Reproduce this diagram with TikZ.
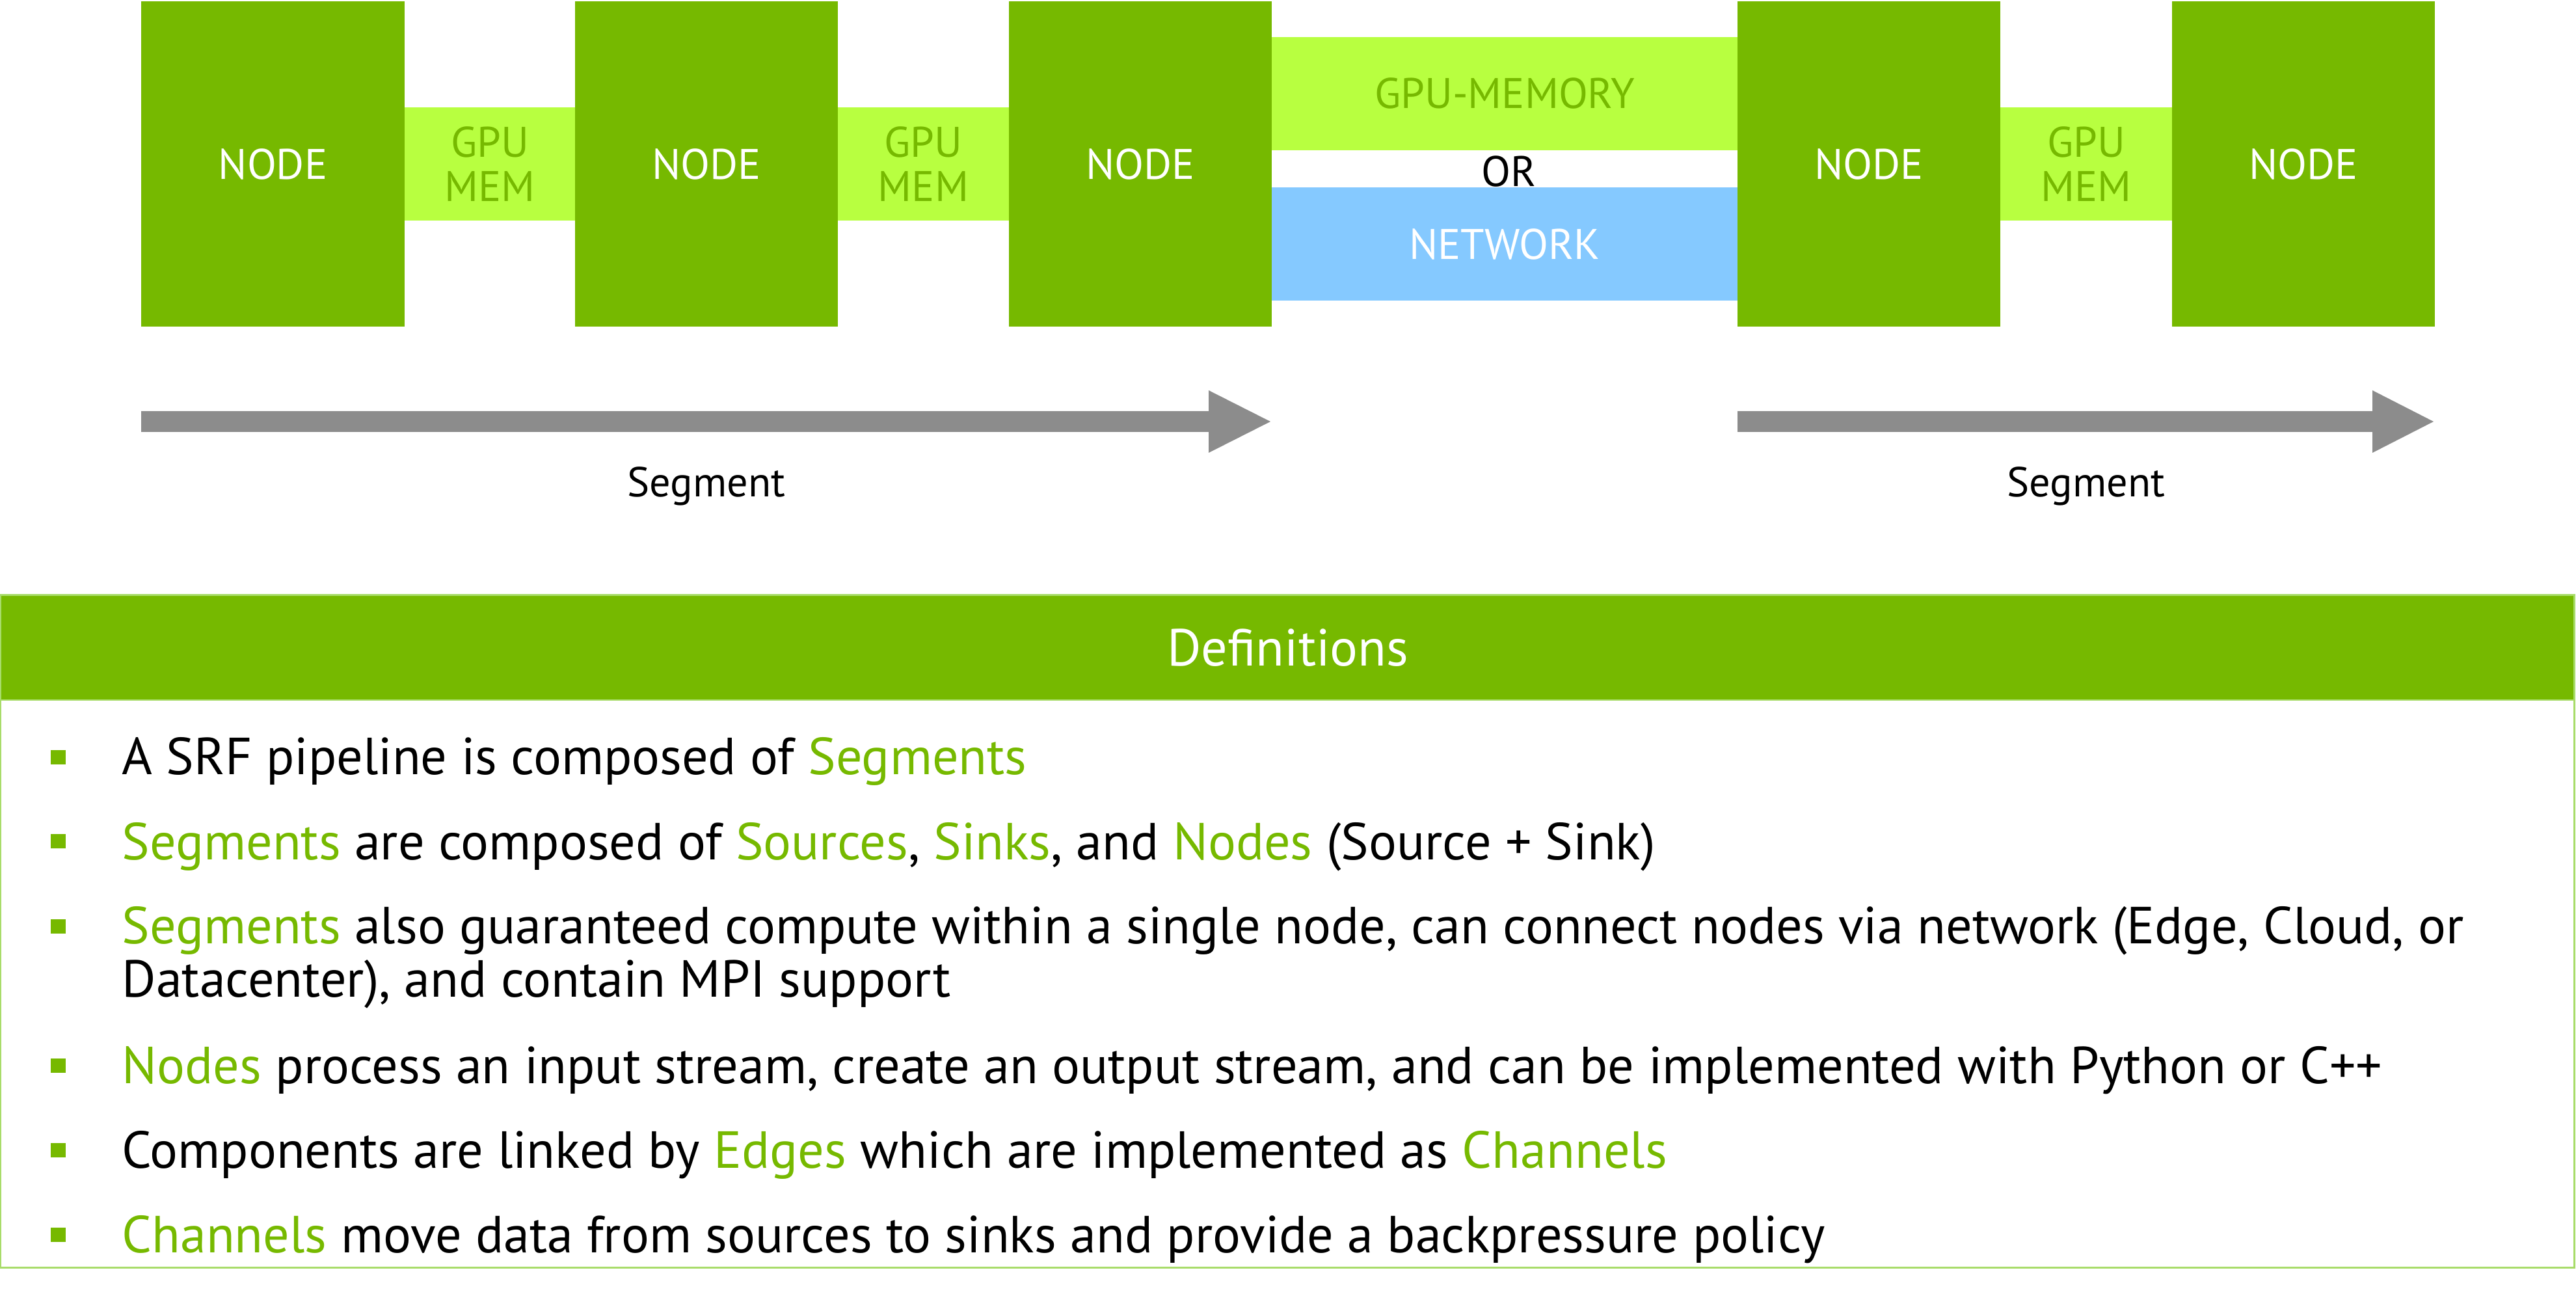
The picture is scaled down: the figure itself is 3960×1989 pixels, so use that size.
\documentclass[tikz,border=0pt]{standalone}
\usepackage{fontspec}
\setmainfont{PT Sans}
\definecolor{nvgreen}{HTML}{76B900}
\definecolor{memgreen}{HTML}{B8FF40}
\definecolor{netblue}{HTML}{85C9FF}
\definecolor{arrowgray}{HTML}{8C8C8C}
\definecolor{boxline}{HTML}{A8DC6A}
\newcommand{\hl}[1]{\textcolor{nvgreen}{#1}}
\begin{document}
\begin{tikzpicture}[x=0.01cm,y=-0.01cm,
  nodebox/.style={fill=nvgreen, minimum width=4.04cm, minimum height=5cm, inner sep=0pt, text=white, font=\fontsize{18.7}{20}\selectfont},
  membox/.style={fill=memgreen, minimum height=1.74cm, inner sep=0pt, text=nvgreen, align=center, font=\fontsize{18.7}{19.3}\selectfont},
  netbox/.style={fill=netblue, minimum height=1.74cm, minimum width=7.16cm, inner sep=0pt, text=white, font=\fontsize{18.7}{20}\selectfont},
  seglabel/.style={anchor=base, inner sep=0pt, font=\fontsize{18.3}{20}\selectfont},
  bullettext/.style={anchor=base west, inner sep=0pt, font=\fontsize{22.8}{26}\selectfont},
  bulletsq/.style={fill=nvgreen, minimum width=0.22cm, minimum height=0.22cm, inner sep=0pt},
  segarrow/.style={fill=arrowgray}
]
\useasboundingbox (0,0) rectangle (3960,1989);

% pipeline boxes
\node[nodebox] (n1) at (419.5,252) {NODE};
\node[membox, minimum width=2.62cm] (m1) at (753,252) {GPU\\MEM};
\node[nodebox] (n2) at (1086,252) {NODE};
\node[membox, minimum width=2.63cm] (m2) at (1419.5,252) {GPU\\MEM};
\node[nodebox] (n3) at (1753,252) {NODE};
\node[membox, minimum width=7.16cm] (gm) at (2313,144) {GPU-MEMORY};
\node[inner sep=0pt, font=\fontsize{18.7}{20}\selectfont] (or) at (2320,263) {OR};
\node[netbox] (net) at (2313,375) {NETWORK};
\node[nodebox] (n4) at (2873,252) {NODE};
\node[membox, minimum width=2.64cm] (m3) at (3207,252) {GPU\\MEM};
\node[nodebox] (n5) at (3541,252) {NODE};

% segment arrows
\fill[segarrow] (217,632) -- (1858,632) -- (1858,600) -- (1953,648) -- (1858,696) -- (1858,664) -- (217,664) -- cycle;
\fill[segarrow] (2671,632) -- (3647,632) -- (3647,600) -- (3741,648) -- (3647,696) -- (3647,664) -- (2671,664) -- cycle;
\node[seglabel] (s1) at (1086,764) {Segment};
\node[seglabel] (s2) at (3207,764) {Segment};

% definitions box
\node[draw=boxline, line width=0.8pt, minimum width=39.54cm, minimum height=10.33cm, inner sep=0pt] (defbox) at (1979,1431.5) {};
\node[fill=nvgreen, draw=boxline, line width=0.5pt, minimum width=39.54cm, minimum height=1.61cm, inner sep=0pt] (defhead) at (1979,995.5) {};
\node[text=white, inner sep=0pt, font=\fontsize{22.8}{26}\selectfont] (deftitle) at (1980,995.5) {Definitions};

\node[bulletsq] (b1) at (89.5,1164) {};
\node[bullettext] (l1) at (187,1191) {A SRF pipeline is composed of \hl{Segments}};
\node[bulletsq] (b2) at (89.5,1293) {};
\node[bullettext] (l2) at (187,1321) {\hl{Segments} are composed of \hl{Sources}, \hl{Sinks}, and \hl{Nodes} (Source + Sink)};
\node[bulletsq] (b3) at (89.5,1424) {};
\node[bullettext] (l3) at (187,1451) {\hl{Segments} also guaranteed compute within a single node, can connect nodes via network (Edge, Cloud, or};
\node[bullettext] (l3b) at (187,1532) {Datacenter), and contain MPI support};
\node[bulletsq] (b4) at (89.5,1638) {};
\node[bullettext] (l4) at (187,1665) {\hl{Nodes} process an input stream, create an output stream, and can be implemented with Python or C++};
\node[bulletsq] (b5) at (89.5,1768) {};
\node[bullettext] (l5) at (187,1795) {Components are linked by \hl{Edges} which are implemented as \hl{Channels}};
\node[bulletsq] (b6) at (89.5,1898) {};
\node[bullettext] (l6) at (187,1925) {\hl{Channels} move data from sources to sinks and provide a backpressure policy};
\end{tikzpicture}
\end{document}
